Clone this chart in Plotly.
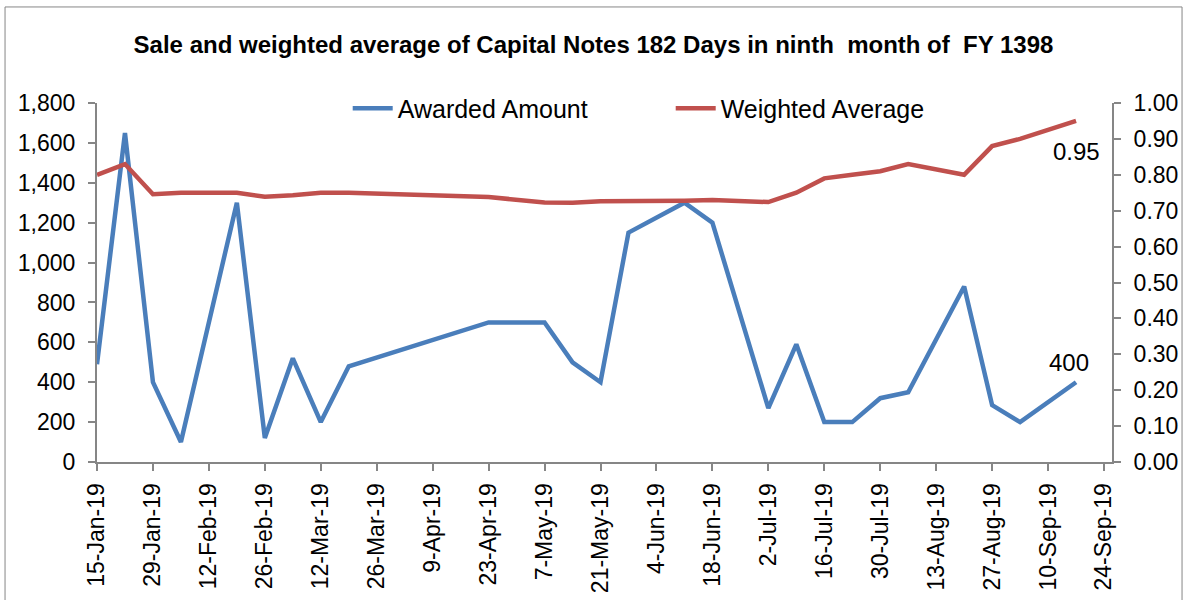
import plotly.graph_objects as go

dates = ["2019-01-15", "2019-01-22", "2019-01-29", "2019-02-05", "2019-02-19",
         "2019-02-26", "2019-03-05", "2019-03-12", "2019-03-19", "2019-04-23",
         "2019-05-07", "2019-05-14", "2019-05-21", "2019-05-28", "2019-06-11",
         "2019-06-18", "2019-07-02", "2019-07-09", "2019-07-16", "2019-07-23",
         "2019-07-30", "2019-08-06", "2019-08-20", "2019-08-27", "2019-09-03",
         "2019-09-17"]
awarded = [490, 1650, 400, 100, 1300, 120, 520, 200, 480, 700,
           700, 500, 400, 1150, 1300, 1200, 270, 590, 200, 200,
           320, 350, 880, 285, 200, 400]
weighted = [0.80, 0.83, 0.746, 0.75, 0.75, 0.739, 0.743, 0.75, 0.75, 0.738,
            0.723, 0.722, 0.726, 0.726, 0.728, 0.73, 0.724, 0.75, 0.79, 0.80,
            0.81, 0.83, 0.80, 0.88, 0.90, 0.95]
tick_dates = ["2019-01-15", "2019-01-29", "2019-02-12", "2019-02-26", "2019-03-12",
              "2019-03-26", "2019-04-09", "2019-04-23", "2019-05-07", "2019-05-21",
              "2019-06-04", "2019-06-18", "2019-07-02", "2019-07-16", "2019-07-30",
              "2019-08-13", "2019-08-27", "2019-09-10", "2019-09-24"]

BLUE = "#4A7EBB"
RED = "#C0504D"
AXIS = "#868686"
FONT = "Liberation Sans, Arial, sans-serif"

fig = go.Figure()
fig.add_trace(go.Scatter(x=dates, y=awarded, name="Awarded Amount", mode="lines",
                         line=dict(color=BLUE, width=4.5)))
fig.add_trace(go.Scatter(x=dates, y=weighted, name="Weighted Average", mode="lines",
                         line=dict(color=RED, width=4.5), yaxis="y2"))

fig.add_annotation(x=dates[-1], y=weighted[-1], yref="y2", text=f"{weighted[-1]:.2f}",
                   showarrow=False, yshift=-31, xshift=0,
                   font=dict(family=FONT, size=24, color="black"))
fig.add_annotation(x=dates[-1], y=awarded[-1], yref="y", text=f"{awarded[-1]:,}",
                   showarrow=False, yshift=20, xshift=-7,
                   font=dict(family=FONT, size=24, color="black"))

# outer chart border
fig.add_shape(type="rect", xref="paper", yref="paper",
              x0=-0.0906, x1=1.0690, y0=-0.40, y1=1.2675,
              line=dict(color=AXIS, width=1), fillcolor="rgba(0,0,0,0)", layer="below")

fig.update_layout(
    width=1187, height=600,
    margin=dict(l=97, r=75, t=103, b=138),
    paper_bgcolor="white", plot_bgcolor="white",
    font=dict(family=FONT, size=21, color="black"),
    title=dict(text="Sale and weighted average of Capital Notes 182 Days in ninth\u00a0 month of\u00a0 FY 1398",
               x=0.5, xref="container", xanchor="center",
               y=1 - 45 / 600, yref="container", yanchor="middle",
               font=dict(family="Liberation Sans Narrow, Arial Narrow, Liberation Sans, sans-serif",
                         size=24, color="black", weight="bold")),
    showlegend=True,
    legend=dict(orientation="h", x=0.247, xanchor="left", y=0.985, yanchor="middle",
                bgcolor="rgba(0,0,0,0)", font=dict(family=FONT, size=25, color="black"),
                itemwidth=40, entrywidth=268, entrywidthmode="pixels"),
    xaxis=dict(type="date", range=["2019-01-15", "2019-09-26"],
               tickvals=tick_dates, tickformat="%-d-%b-%y", tickangle=-90,
               ticks="outside", ticklen=7, tickcolor=AXIS, tickwidth=1.5,
               showline=True, linecolor=AXIS, linewidth=2, showgrid=False,
               zeroline=False, tickfont=dict(size=23), ticklabelstandoff=3,
               automargin=False),
    yaxis=dict(range=[0, 1800], dtick=200, tickformat=",", ticks="outside", ticklen=7,
               tickcolor=AXIS, tickwidth=1.5, showline=True, linecolor=AXIS, linewidth=2,
               showgrid=False, zeroline=False, tickfont=dict(size=23), ticklabelstandoff=8,
               automargin=False),
    yaxis2=dict(range=[0, 1], dtick=0.1, tickformat=".2f", overlaying="y", side="right",
                ticks="outside", ticklen=7, tickcolor=AXIS, tickwidth=1.5, showline=True,
                linecolor=AXIS, linewidth=2, showgrid=False, zeroline=False,
                tickfont=dict(size=23), ticklabelstandoff=8, automargin=False),
)

fig.write_html("out.html", config={"displayModeBar": False},
               post_script="document.body.style.margin='0';")
